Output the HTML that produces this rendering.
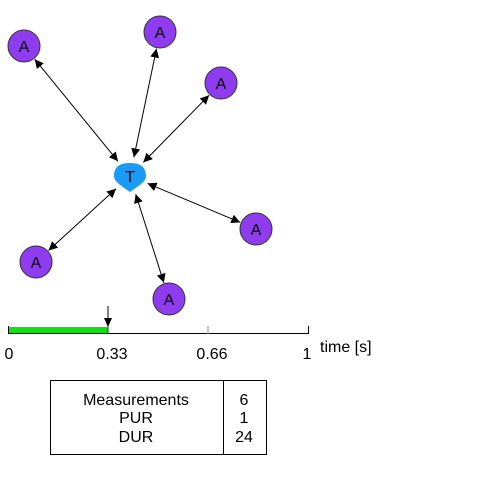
<!DOCTYPE html>
<html><head><style>body{margin:0;background:#fff}svg{display:block}</style></head><body>
<svg width="500" height="500" viewBox="0 0 500 500" xmlns="http://www.w3.org/2000/svg" font-family="Liberation Sans, sans-serif">
<defs><marker id="a" viewBox="0 0 10 10" refX="10" refY="5" markerWidth="9" markerHeight="9" markerUnits="userSpaceOnUse" orient="auto-start-reverse"><path d="M0,0L10,5L0,10z" fill="#000"/></marker></defs>
<g stroke="#000" stroke-width="1" marker-start="url(#a)" marker-end="url(#a)">
<line x1="118" y1="161.3" x2="34.7" y2="59.2"/>
<line x1="133.9" y1="157.4" x2="156.5" y2="48.6"/>
<line x1="143.3" y1="162.4" x2="209.1" y2="95.2"/>
<line x1="147.5" y1="183.4" x2="240.3" y2="222.4"/>
<line x1="116" y1="188.8" x2="48.5" y2="250.5"/>
<line x1="135.7" y1="194.1" x2="163.9" y2="282.8"/>
</g>
<g fill="#8f3cf0" stroke="#333" stroke-width="1">
<circle cx="24" cy="46" r="16"/><circle cx="160" cy="32" r="16"/><circle cx="221" cy="83" r="16"/>
<circle cx="256" cy="229" r="16"/><circle cx="36" cy="262" r="16"/><circle cx="169" cy="299" r="16"/>
</g>
<g font-size="16" text-anchor="middle" fill="#000">
<text x="24" y="52">A</text><text x="160" y="38">A</text><text x="221" y="89">A</text>
<text x="256" y="235">A</text><text x="36" y="268">A</text><text x="169" y="305">A</text>
</g>
<path d="M114,176 C114,166 121,163 130,163 C139,163 146,166 146,176 C146,182 138,186 130,192 C122,186 114,182 114,176Z" fill="#1a9bf5"/>
<text x="130" y="182" font-size="16" text-anchor="middle">T</text>
<rect x="8" y="327" width="100" height="7" fill="#11e011"/>
<g stroke="#000" stroke-width="1">
<line x1="8" y1="333.5" x2="308" y2="333.5"/>
<line x1="8.5" y1="326" x2="8.5" y2="334"/>
<line x1="308.5" y1="326" x2="308.5" y2="334"/>
<line x1="108" y1="306" x2="108" y2="320"/>
</g>
<line x1="208" y1="326" x2="208" y2="334" stroke="#888"/>
<line x1="108" y1="326" x2="108" y2="334" stroke="#060"/>
<path d="M104,318L112,318L108,327z" fill="#000"/>
<g font-size="16" fill="#000" text-anchor="middle">
<text x="9" y="359">0</text><text x="112" y="359">0.33</text><text x="212" y="359">0.66</text><text x="307" y="359">1</text>
</g>
<text x="320" y="352" font-size="16">time [s]</text>
<rect x="50.5" y="380.5" width="216" height="74" fill="none" stroke="#000"/>
<line x1="223.5" y1="380" x2="223.5" y2="455" stroke="#000"/>
<g font-size="16" text-anchor="middle">
<text x="136" y="405">Measurements</text><text x="136" y="423">PUR</text><text x="136" y="442">DUR</text>
<text x="244" y="405">6</text><text x="244" y="423">1</text><text x="244" y="442">24</text>
</g>
</svg>
</body></html>
